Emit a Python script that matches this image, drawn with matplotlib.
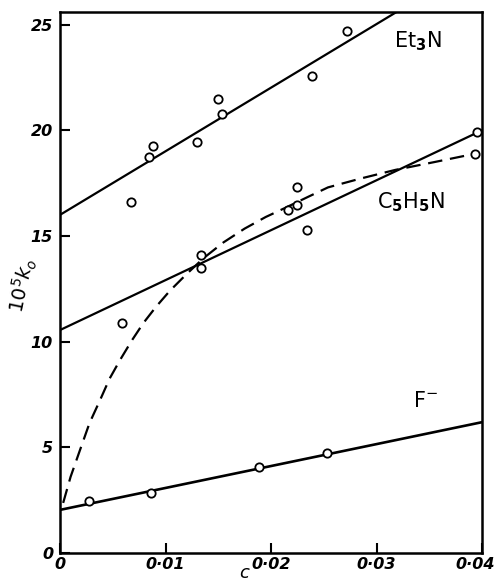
import matplotlib
matplotlib.use("Agg")
import matplotlib.pyplot as plt
import matplotlib.transforms as mtransforms

# Et3N data and fitted line
et_c = [0.0067, 0.00844, 0.00878, 0.01295, 0.01498, 0.01539, 0.02385, 0.02717]
et_k = [16.63, 18.76, 19.27, 19.46, 21.48, 20.79, 22.58, 24.72]
et_line_c = [0.0, 0.0319]
et_line_k = [16.0, 25.6]

# C5H5N data and fitted line
py_c = [0.00585, 0.0134, 0.0134, 0.02164, 0.02243, 0.02243, 0.02338, 0.0393, 0.0395]
py_k = [10.90, 14.11, 13.48, 16.21, 17.31, 16.48, 15.29, 18.89, 19.92]
py_line_c = [0.0, 0.04]
py_line_k = [10.55, 20.0]

# dashed curve
dash_c = [0.0003, 0.001, 0.0019, 0.0028, 0.0038, 0.0047, 0.0057, 0.0068, 0.0079,
          0.0091, 0.0104, 0.0120, 0.0136, 0.0155, 0.0175, 0.0195, 0.0213, 0.0235,
          0.0254, 0.0285, 0.0318, 0.0355, 0.0393]
dash_k = [2.37, 3.6, 4.88, 6.15, 7.24, 8.25, 9.14, 10.05, 10.88,
          11.65, 12.40, 13.20, 13.95, 14.70, 15.35, 15.90, 16.32, 16.85,
          17.30, 17.72, 18.13, 18.50, 18.89]

# F- data and fitted line
f_c = [0.00278, 0.00863, 0.01886, 0.02534]
f_k = [2.48, 2.86, 4.09, 4.72]
f_line_c = [0.0, 0.04]
f_line_k = [2.04, 6.19]

xticks = [0, 0.01, 0.02, 0.03, 0.04]
xticklabels = ["0", "0·01", "0·02", "0·03", "0·04"]
yticks = [0, 5, 10, 15, 20, 25]
yticklabels = ["0", "5", "10", "15", "20", "25"]

fig = plt.figure(figsize=(4.95, 5.83), dpi=100)
ax = fig.add_axes([60/495, 1-553/583, 422/495, 541/583])

lw = 1.6
ax.plot(et_line_c, et_line_k, color="black", lw=lw)
ax.plot(py_line_c, py_line_k, color="black", lw=lw)
ax.plot(f_line_c, f_line_k, color="black", lw=lw + 0.3)
ax.plot(dash_c, dash_k, color="black", lw=lw, dashes=(6.5, 3.5))

mk = dict(ls="none", marker="o", mfc="white", mec="black", ms=6, mew=1.3, zorder=5)
ax.plot(et_c, et_k, **mk)
ax.plot(py_c, py_k, **mk)
ax.plot(f_c, f_k, **mk)

ax.set_xlim(0, 0.04)
ax.set_ylim(0, 25.6)
ax.set_xticks(xticks)
ax.set_xticklabels(xticklabels)
ax.set_yticks(yticks)
ax.set_yticklabels(yticklabels)
ax.tick_params(direction="in", length=7, width=1.5, labelsize=11.5)
ax.tick_params(axis="x", pad=3)
ax.tick_params(axis="y", pad=5)
for lab in ax.get_xticklabels() + ax.get_yticklabels():
    lab.set_fontstyle("italic")
    lab.set_fontweight("bold")
last = ax.get_xticklabels()[-1]
last.set_transform(last.get_transform() +
                   mtransforms.ScaledTranslation(-7/100, 0, fig.dpi_scale_trans))
for s in ax.spines.values():
    s.set_linewidth(1.8)

lab_kw = dict(fontsize=15, ha="center", va="center", family="DejaVu Sans")
ax.text(0.0339, 24.2, r"Et$_\mathbf{3}$N", **lab_kw)
ax.text(0.0333, 16.6, r"C$_\mathbf{5}$H$_\mathbf{5}$N", **lab_kw)
ax.text(0.0346, 7.2, r"F$^{-}$", **lab_kw)

fig.text(22/495, 1-285/583, r"$10^5k_o$", rotation=78, fontsize=14,
         ha="center", va="center", style="italic")
fig.text(245/495, 1/583, r"$c$", fontsize=13, ha="center", va="bottom")

fig.savefig("out.png", dpi=100)
